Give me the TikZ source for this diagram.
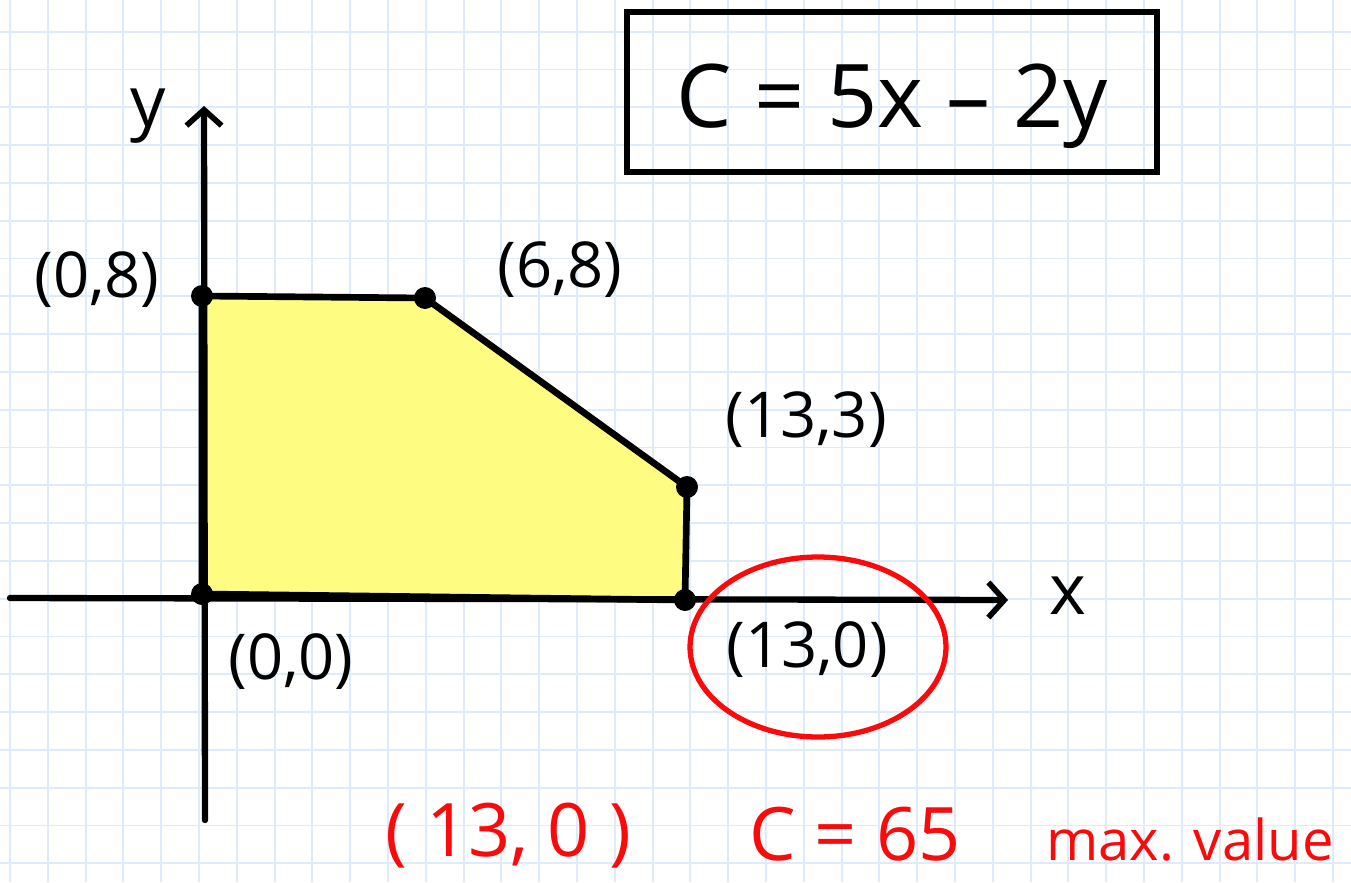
\documentclass[tikz,border=0pt]{standalone}
\usepackage{fontspec}
\setmainfont{Open Sans}
\usetikzlibrary{arrows.meta,positioning}
\definecolor{gridBlue}{RGB}{222,235,250}
\definecolor{regionYellow}{RGB}{255,252,130}
\definecolor{markRed}{RGB}{250,10,10}
\tikzset{
  gridline/.style={draw=gridBlue, line width=1.1pt},
  axisline/.style={line width=3.6pt, line cap=round,
    -{Straight Barb[length=9pt,width=20pt,line width=3.2pt]}},
  region/.style={fill=regionYellow, draw=black, line width=3.8pt, line join=round},
  vtx/.style={circle, fill=black, inner sep=0pt, minimum size=0.44cm},
  ptlabel/.style={font=\fontsize{36}{40}\selectfont, text=black, inner sep=1pt},
  redlabel/.style={font=\fontsize{#1}{#1}\selectfont, text=markRed, inner sep=1pt},
}
\begin{document}
\begin{tikzpicture}[x=0.02cm, y=-0.02cm]
  \useasboundingbox (0,0) rectangle (1351,882);
  \fill[white] (0,0) rectangle (1351,882);
  % graph paper
  \foreach \k in {0,...,35}
    \draw[gridline] ({10+37.8*\k},0) -- ({10+37.8*\k},882);
  \foreach \k in {0,...,22}
    \draw[gridline] (0,{31.7+37.8*\k}) -- (1351,{31.7+37.8*\k});

  % corner points of the feasible region
  \coordinate (o) at (202,594);
  \coordinate (a) at (202,296);
  \coordinate (b) at (425,298);
  \coordinate (c) at (687,487);
  \coordinate (d) at (685,600);

  \draw[region] (o) -- (a) -- (b) -- (c) -- (d) -- cycle;

  % axes
  \coordinate (xs) at (10,598);
  \coordinate (xe) at (1008,600);
  \coordinate (ys) at (205,820);
  \coordinate (ye) at (204,106);
  \draw[axisline] (xs) -- (xe);
  \draw[axisline] (ys) -- (ye);
  \node[ptlabel, font=\fontsize{40}{44}\selectfont] (lx) at (1068,596) {x};
  \node[ptlabel, font=\fontsize{40}{44}\selectfont] (ly) at (148,116) {y};

  \foreach \p in {o,a,b,c,d}
    \node[vtx] at (\p) {};

  \node[ptlabel] (l08)  at (97,280)  {(0,8)};
  \node[ptlabel] (l68)  at (560,270) {(6,8)};
  \node[ptlabel] (l133) at (806,420) {(13,3)};
  \node[ptlabel] (l00)  at (291,662) {(0,0)};
  \node[ptlabel] (l130) at (807,650) {(13,0)};

  % the best corner
  \draw[markRed, line width=3pt] (818,647) ellipse [x radius=2.56cm, y radius=1.8cm];

  % objective
  \node[draw=black, line width=3.6pt, minimum width=10.6cm, minimum height=3.2cm] (obj) at (892,92) {};
  \node[font=\fontsize{50}{54}\selectfont, inner sep=0pt] (objtxt) at (892,106) {C = 5x – 2y};

  % result
  \node[redlabel=42] (rpt)  at (508,836) {( 13, 0 )};
  \node[redlabel=42] (rval) at (855,834) {C = 65};
  \node[redlabel=32] (rmax) at (1190,840) {max. value};
\end{tikzpicture}
\end{document}
